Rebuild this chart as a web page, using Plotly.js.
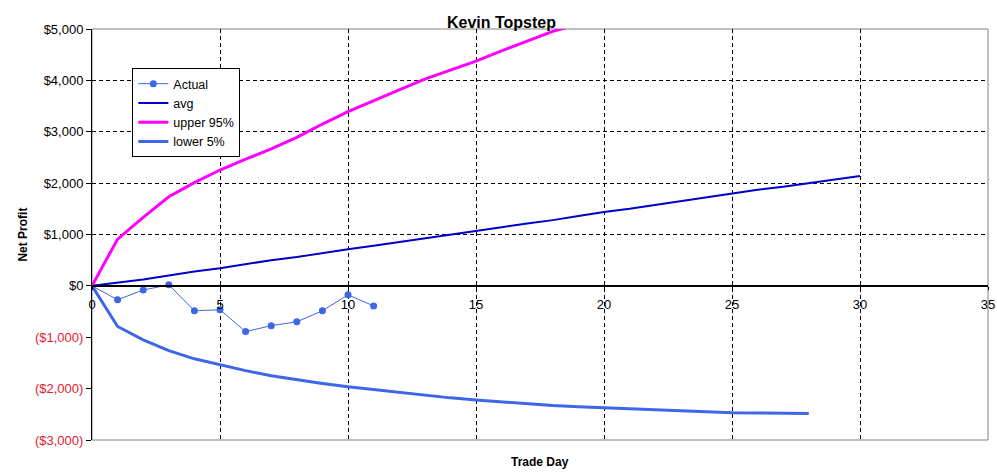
<!DOCTYPE html>
<html>
<head>
<meta charset="utf-8">
<script src="https://cdn.plot.ly/plotly-3.0.1.min.js"></script>
<style>
  html, body { margin: 0; padding: 0; background: #ffffff; }
  #chart { width: 997px; height: 475px; }
</style>
</head>
<body>
<div id="chart"></div>
<script>
// trade days and series values
var actualDays = [0, 1, 2, 3, 4, 5, 6, 7, 8, 9, 10, 11];
var actualProfit = [0, -270, -80, 20, -485, -465, -890, -775, -700, -485, -175, -390];

var avgDays = [0, 1, 2, 3, 4, 5, 6, 7, 8, 9, 10, 11, 12, 13, 14, 15, 16, 17, 18, 19, 20,
               21, 22, 23, 24, 25, 26, 27, 28, 29, 30];
var avgProfit = [0, 60, 125, 200, 280, 345, 420, 500, 560, 640, 715, 780, 850, 930, 995, 1065,
                 1140, 1215, 1280, 1360, 1440, 1500, 1575, 1650, 1720, 1800, 1870, 1930, 2000, 2070, 2140];

var upperDays = [0, 1, 2, 3, 4, 5, 6, 7, 8, 9, 10, 11, 12, 13, 14, 15, 16, 17, 18, 19];
var upperProfit = [0, 910, 1335, 1735, 2010, 2255, 2465, 2665, 2890, 3150, 3390, 3610, 3815,
                   4025, 4205, 4375, 4575, 4770, 4955, 5090];

var lowerDays = [0, 1, 2, 3, 4, 5, 6, 7, 8, 9, 10, 11, 12, 13, 14, 15, 16, 17, 18, 19, 20,
                 21, 22, 23, 24, 25, 26, 27, 28];
var lowerProfit = [0, -790, -1050, -1260, -1420, -1540, -1650, -1750, -1830, -1900, -1965, -2020,
                   -2075, -2130, -2180, -2220, -2260, -2300, -2330, -2355, -2375, -2395, -2420,
                   -2440, -2460, -2470, -2475, -2480, -2485];

var posTicks = [0, 1000, 2000, 3000, 4000, 5000];
var posLabels = ['$0', '$1,000', '$2,000', '$3,000', '$4,000', '$5,000'];
var negTicks = [-1000, -2000, -3000];
var negLabels = ['($1,000)', '($2,000)', '($3,000)'];
var dayTicks = [0, 5, 10, 15, 20, 25, 30, 35];

var font = 'Liberation Sans, Arial, sans-serif';

var actual = {
  x: actualDays,
  y: actualProfit,
  mode: 'lines+markers',
  name: 'Actual',
  line: { color: '#3d66e8', width: 1 },
  marker: { size: 7, color: '#3d66e8' }
};

var avg = {
  x: avgDays,
  y: avgProfit,
  mode: 'lines',
  name: 'avg',
  line: { color: '#0000c8', width: 2 }
};

var upper = {
  x: upperDays,
  y: upperProfit,
  mode: 'lines',
  name: 'upper 95%',
  line: { color: '#ff00ff', width: 3 }
};

var lower = {
  x: lowerDays,
  y: lowerProfit,
  mode: 'lines',
  name: 'lower 5%',
  line: { color: '#3d66e8', width: 3 }
};

// dummy trace to carry the red negative tick labels
var negAxis = {
  x: [0],
  y: [0],
  yaxis: 'y2',
  mode: 'markers',
  marker: { opacity: 0 },
  showlegend: false,
  hoverinfo: 'skip'
};

var data = [actual, avg, upper, lower, negAxis];

var layout = {
  width: 997,
  height: 475,
  margin: { l: 92, r: 9, t: 29, b: 35 },
  paper_bgcolor: '#ffffff',
  plot_bgcolor: '#ffffff',
  font: { family: font, size: 12, color: '#000000' },
  title: {
    text: '<b>Kevin Topstep</b>',
    font: { family: font, size: 16, color: '#000000' },
    xref: 'container',
    yref: 'container',
    x: 0.503,
    y: 0.952,
    xanchor: 'center',
    yanchor: 'middle'
  },
  showlegend: true,
  legend: {
    x: 0.045,
    y: 0.905,
    xanchor: 'left',
    yanchor: 'top',
    bgcolor: '#ffffff',
    bordercolor: '#000000',
    borderwidth: 1,
    font: { family: font, size: 12.5, color: '#000000' },
    tracegroupgap: 0
  },
  xaxis: {
    range: [0, 35],
    tickvals: dayTicks,
    showgrid: true,
    gridcolor: '#000000',
    gridwidth: 1,
    griddash: '4px,3px',
    zeroline: false,
    showline: true,
    linecolor: '#000000',
    linewidth: 2,
    anchor: 'free',
    position: 0.375,
    ticks: 'outside',
    ticklen: 3,
    tickcolor: '#000000',
    ticklabelstandoff: 4,
    tickfont: { family: font, size: 13, color: '#000000' }
  },
  yaxis: {
    range: [-3000, 5000],
    tickvals: posTicks,
    ticktext: posLabels,
    showgrid: true,
    gridcolor: '#000000',
    gridwidth: 1,
    griddash: '4px,3px',
    zeroline: false,
    showline: true,
    linecolor: '#000000',
    linewidth: 1,
    ticks: 'outside',
    ticklen: 5,
    tickcolor: '#000000',
    tickfont: { family: font, size: 13, color: '#000000' }
  },
  yaxis2: {
    range: [-3000, 5000],
    overlaying: 'y',
    side: 'left',
    anchor: 'x',
    tickvals: negTicks,
    ticktext: negLabels,
    showgrid: false,
    zeroline: false,
    showline: false,
    ticks: 'outside',
    ticklen: 5,
    tickcolor: '#000000',
    tickfont: { family: font, size: 13, color: '#e8202e' }
  },
  shapes: [{
    type: 'rect',
    xref: 'paper',
    yref: 'paper',
    x0: 0, x1: 1, y0: 0, y1: 1,
    line: { color: '#808080', width: 1 },
    layer: 'below'
  }],
  annotations: [
    {
      text: '<b>Net Profit</b>',
      xref: 'paper', yref: 'paper',
      x: -0.078, y: 0.5,
      xanchor: 'center',
      yanchor: 'middle',
      textangle: -90,
      showarrow: false,
      font: { family: font, size: 12, color: '#000000' }
    },
    {
      text: '<b>Trade Day</b>',
      xref: 'paper', yref: 'paper',
      x: 0.5, y: -0.054,
      xanchor: 'center',
      yanchor: 'middle',
      showarrow: false,
      font: { family: font, size: 12, color: '#000000' }
    }
  ]
};

Plotly.newPlot(document.getElementById('chart'), data, layout, { displayModeBar: false });
</script>
</body>
</html>
